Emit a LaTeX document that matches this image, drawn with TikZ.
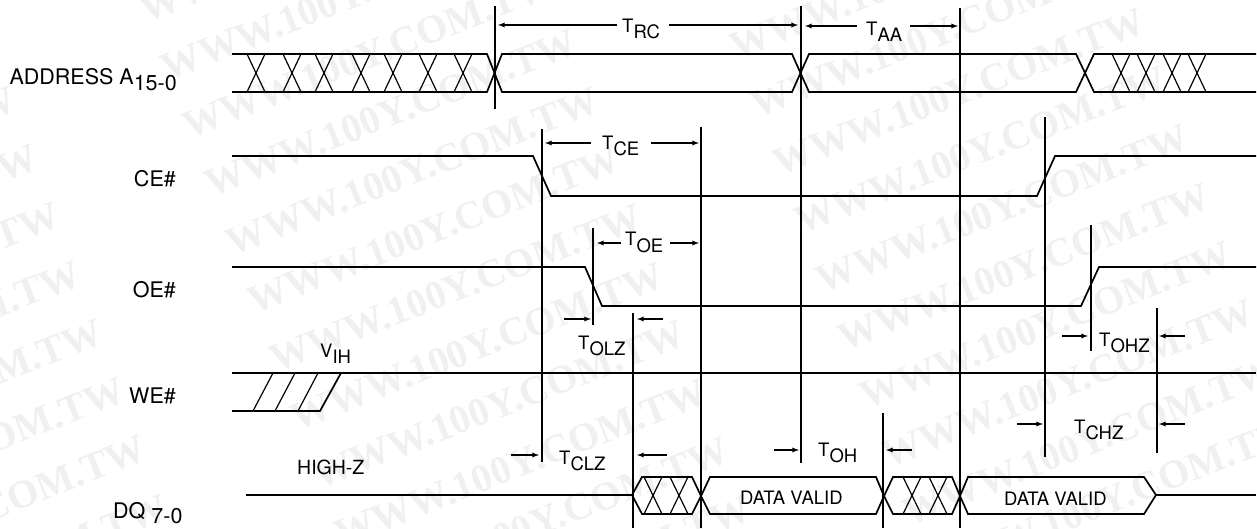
\documentclass[tikz,border=0pt]{standalone}
\usepackage{fontspec}
\setmainfont{TeX Gyre Heros}
\newfontfamily\wmfont{Liberation Serif}
\usetikzlibrary{positioning,calc,arrows}
\tikzset{sig/.style={draw, line width=1.7pt, line join=miter}}
\tikzset{thin1/.style={draw, line width=1.2pt}}
\tikzset{tick/.style={draw, line width=1.5pt}}
\tikzset{dim/.style={draw, ->, >=latex, line width=1.3pt}}
\tikzset{lab/.style={anchor=base west, inner sep=0pt, font=\fontsize{18.5}{20}\selectfont}}
\tikzset{name1/.style={anchor=base east, inner sep=0pt, font=\fontsize{21.5}{23}\selectfont}}
\tikzset{wm/.style={rotate=21.5, anchor=base west, inner sep=0pt, text=black!6, font=\fontsize{40}{42}\wmfont\bfseries}}
\newcommand\tsub[2]{#1\raisebox{-6pt}{#2}}
% crossing in a bus, top left corner at x
\newcommand\xcross[3]{
		\foreach \cx in {#1} {
			\draw[thin1] (\cx,#2) -- (\cx+18,#3);
			\draw[thin1] (\cx,#3) -- (\cx+18,#2);
		}
		}
\newcommand\tline[4]{
		\coordinate (#1t) at (#2,#3);
		\coordinate (#1b) at (#2,#4);
		\draw[tick] (#1t) -- (#1b);
		}
\newcommand\dimarr[4]{
		\coordinate (#1a) at (#2,#4);
		\coordinate (#1z) at (#3,#4);
		\draw[dim] (#1a) -- (#1z);
		}
\begin{document}
\begin{tikzpicture}[x=1pt,y=-1pt]
	\useasboundingbox (0,0) rectangle (1257,529);
	% watermark
	\foreach \r in {-3,...,6} {
		\node[wm] (wma\r) at (-328+\r*21.7,313+\r*58.3) {WWW.100Y.COM.TW};
	}
	\foreach \r in {-3,...,8} {
		\node[wm] (wmb\r) at (211+\r*21.7,198+\r*58.3) {WWW.100Y.COM.TW};
	}
	\foreach \r in {-4,...,6} {
		\node[wm] (wmc\r) at (801+\r*21.7,235+\r*58.3) {WWW.100Y.COM.TW};
	}
	% address bus
	\draw[sig] (232,54) -- (487,54) -- (502,92) -- (792,92) -- (809,54) -- (1076,54) -- (1094,92) -- (1256,92);
	\draw[sig] (232,92) -- (487,92) -- (502,54) -- (792,54) -- (809,92) -- (1076,92) -- (1094,54) -- (1256,54);
	\xcross{247,283,315,352,384,419,454}{54}{92}
	\xcross{1112,1137,1163,1188}{54}{92}
	% CE, OE, WE
	\draw[sig] (232,156) -- (533,156) -- (551,196) -- (1037,196) -- (1055,156) -- (1256,156);
	\draw[sig] (232,267) -- (585,267) -- (602,306) -- (1081,306) -- (1099,267) -- (1256,267);
	\draw[sig] (232,373) -- (1256,373);
	\draw[sig] (232,411) -- (320,411) -- (341,373);
	\foreach \hx in {253,275,298} {
		\draw[thin1] (\hx,411) -- (\hx+20,373);
	}
	% data bus
	\draw[sig] (246,495) -- (632,495);
	\draw[sig] (632,495) -- (642,477) -- (692,477) -- (701,496) -- (692,514) -- (642,514) -- cycle;
	\draw[sig] (701,496) -- (710,477) -- (876,477) -- (884,496) -- (876,514) -- (710,514) -- cycle;
	\draw[sig] (884,496) -- (893,477) -- (952,477) -- (960,496) -- (952,514) -- (893,514) -- cycle;
	\draw[sig] (960,496) -- (968,477) -- (1144,477) -- (1156,495) -- (1144,514) -- (968,514) -- cycle;
	\draw[sig] (1156,495) -- (1256,495);
	\xcross{644,670}{477}{514}
	\xcross{903,929}{477}{514}
	% timing edges
	\tline{va}{495}{6}{109}
	\tline{vb}{542}{129}{462}
	\tline{vc}{593}{228}{325}
	\tline{vd}{633}{313}{528}
	\tline{ve}{701}{127}{528}
	\tline{vf}{801}{6}{463}
	\tline{vg}{883}{413}{528}
	\tline{vh}{960}{8}{528}
	\tline{vi}{1045}{117}{457}
	\tline{vj}{1091}{225}{351}
	\tline{vk}{1157}{308}{453}
	% arrows
	\dimarr{rcl}{617}{498}{25}
	\dimarr{rcr}{669}{798}{25}
	\dimarr{aal}{857}{805}{26}
	\dimarr{aar}{910}{958}{26}
	\dimarr{cel}{591}{545}{143}
	\dimarr{cer}{651}{699}{143}
	\dimarr{oel}{621}{597}{243}
	\dimarr{oer}{670}{699}{243}
	\dimarr{olzl}{564}{591}{319}
	\dimarr{olzr}{663}{637}{319}
	\dimarr{clzl}{511}{539}{455}
	\dimarr{clzr}{667}{637}{455}
	\dimarr{ohl}{774}{799}{450}
	\dimarr{ohr}{912}{886}{450}
	\dimarr{chzl}{1017}{1043}{424}
	\dimarr{chzr}{1185}{1159}{424}
	\dimarr{ohzl}{1062}{1088}{336}
	\dimarr{ohzr}{1185}{1159}{336}
	% timing labels
	\node[lab] (trc) at (622,33) {\tsub{T}{RC}};
	\node[lab] (taa) at (866,36) {\tsub{T}{AA}};
	\node[lab] (tce) at (602,150) {\tsub{T}{CE}};
	\node[lab] (toe) at (625,246) {\tsub{T}{OE}};
	\node[lab] (tolz) at (578,349) {\tsub{T}{OLZ}};
	\node[lab] (vih) at (320,357) {\tsub{V}{IH}};
	\node[lab] (tclz) at (559,464) {\tsub{T}{CLZ}};
	\node[lab] (toh) at (818,456) {\tsub{T}{OH}};
	\node[lab] (tchz) at (1074,433) {\tsub{T}{CHZ}};
	\node[lab] (tohz) at (1099,346) {\tsub{T}{OHZ}};
	\node[lab,font=\fontsize{19.5}{21}\selectfont] (hz) at (297,474) {HIGH-Z};
	\node[lab] (dv1) at (740,504) {DATA VALID};
	\node[lab] (dv2) at (1004,505) {DATA VALID};
	% signal names
	\node[name1] (addr) at (177,85) {ADDRESS \tsub{A}{15-0}};
	\node[name1] (ce) at (176,187) {CE\#};
	\node[name1] (oe) at (176,297) {OE\#};
	\node[name1] (we) at (176,403) {WE\#};
	\node[name1,anchor=base west] (dq) at (113,518) {DQ\hspace{6pt}\raisebox{-5pt}{7-0}};
\end{tikzpicture}
\end{document}
